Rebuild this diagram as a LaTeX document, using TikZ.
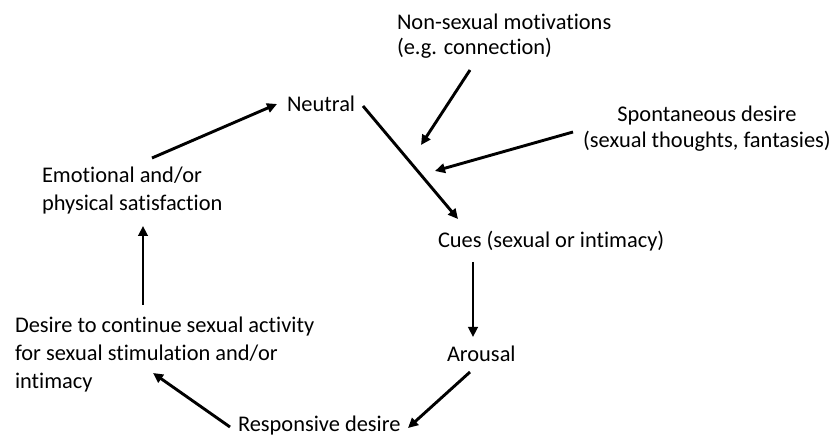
\documentclass[tikz,border=0pt]{standalone}
\usepackage{fontspec}
\setmainfont{Carlito}[Ligatures=NoCommon]
\usetikzlibrary{arrows.meta}
\begin{document}
\begin{tikzpicture}[x=1pt,y=-1pt,
  lbl/.style={inner sep=0pt, outer sep=0pt, font=\fontsize{22.4}{26}\selectfont},
  lblL/.style={lbl, align=left, anchor=base west},
  arr/.style={line width=2.9pt, -{Triangle[length=10pt,width=9.5pt]}}]
\fill[white] (0,0) rectangle (830,438);
\useasboundingbox (0,0) rectangle (830,438);
% base anchor of a multi-line node = baseline of its last line
\node[lblL, font=\fontsize{22.4}{25.5}\selectfont] (nonsex) at (397,55) {Non-sexual motivations\\(e.g. connection)};
\node[lbl, align=center, anchor=base] (spont) at (707,148) {Spontaneous desire\\(sexual thoughts, fantasies)};
\node[lblL] (neutral) at (287,112) {Neutral};
\node[lblL, font=\fontsize{22.4}{28}\selectfont] (emo) at (42,211) {Emotional and/or\\physical satisfaction};
\node[lblL] (cues) at (438,248) {Cues (sexual or intimacy)};
\node[lblL] (arousal) at (447,361) {Arousal};
\node[lblL, font=\fontsize{22.4}{27.5}\selectfont] (desire) at (15,388) {Desire to continue sexual activity\\for sexual stimulation and/or\\intimacy};
\node[lblL] (resp) at (238,431) {Responsive desire};
\coordinate (c3) at (421,145);
\coordinate (c4) at (435,171);
\draw[arr] ([shift={(110,-53)}]emo.base west) -- ([shift={(-10,-8)}]neutral.base west);
\draw[arr] ([shift={(76,-6)}]neutral.base west) -- ([shift={(20,-29)}]cues.base west);
\draw[arr] ([shift={(73,15)}]nonsex.base west) -- (c3);
\draw[arr] ([shift={(-134,-16)}]spont.base) -- (c4);
\draw[arr] ([shift={(35,14)}]cues.base west) -- ([shift={(26,-24)}]arousal.base west);
\draw[arr] ([shift={(23,11)}]arousal.base west) -- ([shift={(170,-3)}]resp.base west);
\draw[arr] ([shift={(-8,-4)}]resp.base west) -- ([shift={(138,-15)}]desire.base west);
\draw[arr] ([shift={(128,-83)}]desire.base west) -- ([shift={(101,15)}]emo.base west);
\end{tikzpicture}
\end{document}
